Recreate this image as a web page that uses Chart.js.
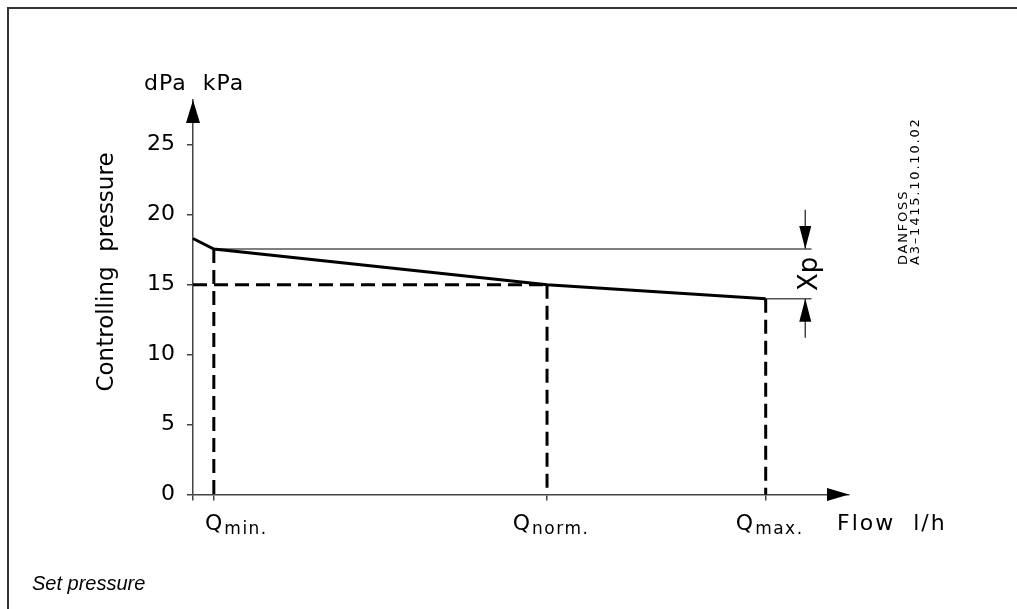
<!DOCTYPE html>
<html>
<head>
<meta charset="utf-8">
<title>Set pressure</title>
<script src="https://cdn.jsdelivr.net/npm/chart.js@4.4.1/dist/chart.umd.min.js"></script>
<style>
  html, body { margin: 0; padding: 0; background: #fff; }
  #wrap { position: relative; width: 1017px; height: 609px; }
</style>
</head>
<body>
<div id="wrap"><canvas id="pressure-chart"></canvas></div>
<script>
// controlling pressure vs flow (relative flow units on x)

const curveFlow = [0, 1, 17, 27.5];
const curvePressure = [18.3, 17.55, 15, 14];   // kPa
const qNames = ['min.', 'norm.', 'max.'];
const qFlow = [1, 17, 27.5];
const qPressure = [17.55, 15, 14];
const pressureTicks = [0, 5, 10, 15, 20, 25];
const xpFlow = 29.4;
const xpLineEnd = 29.7;
const flowMax = 31.5;
const pressureMax = 28.2;

const axisColor = '#444';
const thinColor = '#555';
const dash = [14, 7];
const stemLen = 2.8;

function seg(x1, y1, x2, y2) {
  return [{x: x1, y: y1}, {x: x2, y: y2}];
}
function line(data, color, width, borderDash) {
  return {
    data: data,
    showLine: true,
    borderColor: color,
    borderWidth: width,
    borderDash: borderDash || [],
    pointRadius: 0,
    fill: false,
    clip: false
  };
}

const datasets = [];
datasets.push(line(curveFlow.map((f, i) => ({x: f, y: curvePressure[i]})), '#000', 3));
qFlow.forEach((f, i) => datasets.push(line(seg(f, qPressure[i], f, 0), '#000', 3, dash)));
datasets.push(line(seg(0, qPressure[1], qFlow[1], qPressure[1]), '#000', 3, dash));
datasets.push(line(seg(qFlow[0], qPressure[0], xpLineEnd, qPressure[0]), thinColor, 1.5));
datasets.push(line(seg(qFlow[2], qPressure[2], xpLineEnd, qPressure[2]), thinColor, 1.5));
datasets.push(line(seg(xpFlow, qPressure[0] + stemLen, xpFlow, qPressure[0]), axisColor, 1.5));
datasets.push(line(seg(xpFlow, qPressure[2], xpFlow, qPressure[2] - stemLen), axisColor, 1.5));

function arrow(ctx, tx, ty, dir, len, half) {
  ctx.beginPath();
  ctx.moveTo(tx, ty);
  if (dir === 'up') { ctx.lineTo(tx - half, ty + len); ctx.lineTo(tx + half, ty + len); }
  else if (dir === 'down') { ctx.lineTo(tx - half, ty - len); ctx.lineTo(tx + half, ty - len); }
  else { ctx.lineTo(tx - len, ty - half); ctx.lineTo(tx - len, ty + half); }
  ctx.closePath();
  ctx.fill();
}

function text(ctx, str, px, py, font, align, rotate, spacing) {
  ctx.save();
  ctx.translate(px, py);
  if (rotate) ctx.rotate(-Math.PI / 2);
  ctx.font = font;
  ctx.textAlign = align;
  ctx.textBaseline = 'alphabetic';
  ctx.letterSpacing = (spacing || 0) + 'px';
  ctx.fillText(str, 0, 0);
  ctx.restore();
}

const cad = '"DejaVu Sans", sans-serif';

const notes = {
  id: 'notes',
  afterDraw(chart) {
    const {ctx, chartArea: a, scales: {x, y}} = chart;
    ctx.save();
    ctx.fillStyle = '#000';

    // frame
    ctx.strokeStyle = '#333';
    ctx.lineWidth = 2;
    ctx.beginPath();
    ctx.moveTo(8, chart.height);
    ctx.lineTo(8, 8);
    ctx.lineTo(chart.width, 8);
    ctx.stroke();

    // axis arrows
    arrow(ctx, x.getPixelForValue(0), a.top, 'up', 23, 7);
    arrow(ctx, a.right, y.getPixelForValue(0), 'right', 22, 6.5);

    // Xp dimension
    const xp = x.getPixelForValue(xpFlow);
    const yTop = y.getPixelForValue(qPressure[0]);
    const yBot = y.getPixelForValue(qPressure[2]);
    arrow(ctx, xp, yTop, 'down', 23, 6);
    arrow(ctx, xp, yBot, 'up', 23, 6);
    text(ctx, 'Xp', xp + 12, (yTop + yBot) / 2, '26px ' + cad, 'center', true);

    // axis titles
    text(ctx, 'dPa  kPa', a.left - 49, a.top - 10.5, '22px ' + cad, 'left', false, 1);
    text(ctx, 'Controlling  pressure', a.left - 80, a.top + 172, '23px ' + cad, 'center', true);
    text(ctx, 'Flow  l/h', a.right - 12, a.bottom + 35.5, '22px ' + cad, 'left', false, 2);

    // Q labels with subscripts
    qFlow.forEach((f, i) => {
      ctx.font = '22px ' + cad;
      ctx.letterSpacing = '0px';
      const wq = ctx.measureText('Q').width;
      ctx.font = '17px ' + cad;
      ctx.letterSpacing = '1.5px';
      const ws = ctx.measureText(qNames[i]).width;
      ctx.letterSpacing = '0px';
      const w = wq + 2 + ws;
      let left = x.getPixelForValue(f) + 4 - w / 2;
      left = Math.max(left, a.left + 12);
      text(ctx, 'Q', left, a.bottom + 35.5, '22px ' + cad, 'left');
      text(ctx, qNames[i], left + wq + 2, a.bottom + 39, '17px ' + cad, 'left', false, 1.5);
    });

    // drawing number
    text(ctx, 'DANFOSS', a.right + 57.7, a.top + 165, '13px ' + cad, 'left', true, 1.8);
    text(ctx, 'A3\u20131415.10.10.02', a.right + 70, a.top + 165, '13px ' + cad, 'left', true, 1.8);

    // caption
    text(ctx, 'Set pressure', 32, 589.5, 'italic 20px "Liberation Sans", Arial, sans-serif', 'left');
    ctx.restore();
  }
};

var pressureChart = new Chart(document.getElementById('pressure-chart'), {
  type: 'scatter',
  data: { datasets: datasets },
  options: {
    responsive: true,
    maintainAspectRatio: false,
    animation: false,
    layout: { padding: { left: 133, right: 168, top: 100, bottom: 74.5 } },
    plugins: { legend: { display: false }, tooltip: { enabled: false } },
    scales: {
      x: {
        type: 'linear',
        min: 0,
        max: flowMax,
        afterBuildTicks: s => { s.ticks = [0].concat(qFlow).map(v => ({value: v})); },
        afterFit: s => { s.height = 40; },
        ticks: { display: false },
        grid: { drawOnChartArea: false, drawTicks: true, tickLength: 6, color: axisColor, lineWidth: 1.5 },
        border: { display: true, color: axisColor, width: 1.5 }
      },
      y: {
        type: 'linear',
        min: 0,
        max: pressureMax,
        afterBuildTicks: s => { s.ticks = pressureTicks.map(v => ({value: v})); },
        afterFit: s => { s.width = 60; },
        ticks: { font: { family: 'DejaVu Sans', size: 22 }, color: '#000', padding: 12 },
        grid: { drawOnChartArea: false, drawTicks: true, tickLength: 6, color: axisColor, lineWidth: 1.5 },
        border: { display: true, color: axisColor, width: 1.5 }
      }
    }
  },
  plugins: [notes]
});
</script>
</body>
</html>
